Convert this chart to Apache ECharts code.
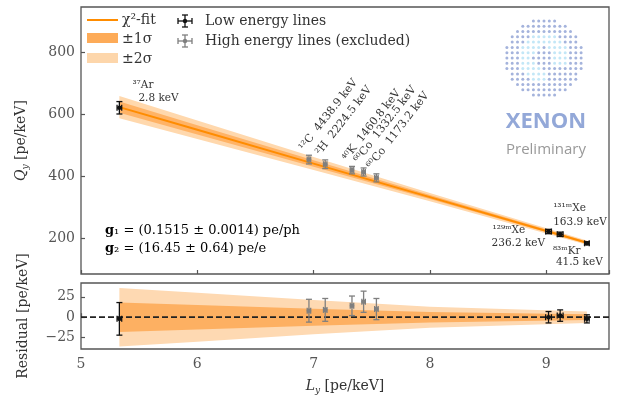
<!DOCTYPE html>
<html>
<head>
<meta charset="utf-8">
<script src="https://cdn.jsdelivr.net/npm/echarts@6/dist/echarts.min.js"></script>
<style>
html, body { margin: 0; padding: 0; background: #fff; }
#chart { width: 617px; height: 399px; }
</style>
</head>
<body>
<div id="chart"></div>
<script>
// fit line and uncertainty bands
var fitLy = [5.33, 6, 7, 8, 9.35];
var fitQy = [622, 549, 440, 332, 185];
var sigma1 = [18, 15, 10.5, 6.5, 3.5];
var sigma2 = [36, 30, 21, 13, 7];

// low energy lines (used in fit)
var lowNames = ['³⁷Ar', '¹²⁹ᵐXe', '¹³¹ᵐXe', '⁸³ᵐKr'];
var lowEnergy = ['2.8 keV', '236.2 keV', '163.9 keV', '41.5 keV'];
var lowLy = [5.33, 9.02, 9.12, 9.35];
var lowQy = [620, 221, 212, 183];
var lowLyErr = [0.02, 0.025, 0.025, 0.02];
var lowQyErr = [20, 7, 7, 5];
var lowRes = [-2, 0, 2, -2];

// high energy lines (excluded)
var highNames = ['¹²C', '²H', '⁴⁰K', '⁶⁰Co', '⁶⁰Co'];
var highEnergy = ['4438.9 keV', '2224.5 keV', '1460.8 keV', '1332.5 keV', '1173.2 keV'];
var highLy = [6.96, 7.10, 7.33, 7.43, 7.54];
var highQy = [453, 438, 419, 413, 394];
var highLyErr = [0.015, 0.015, 0.015, 0.015, 0.015];
var highQyErr = [14, 14, 12, 13, 13];
var highRes = [8, 9, 14, 19, 10];

var qTicks = [200, 400, 600, 800];
var resTicks = [-25, 0, 25];

var FONT = 'DejaVu Serif';
var chart = echarts.init(document.getElementById('chart'));

// label placement for the low energy lines: [dx1, dy1, dx2, dy2]
var lowLabelPos = [[13, -23, 19, -10], [-56, -1, -57, 12], [-7, -26, -7, -12], [-34, 8, -31, 19]];

function bandItem(k, fill, center) {
  return function (params, api) {
    if (params.dataIndex !== 0) return;
    var pts = [];
    for (var i = 0; i < fitLy.length; i++) {
      var c = center ? fitQy[i] : 0;
      pts.push(api.coord([fitLy[i], c + k[i]]));
    }
    for (var j = fitLy.length - 1; j >= 0; j--) {
      var c2 = center ? fitQy[j] : 0;
      pts.push(api.coord([fitLy[j], c2 - k[j]]));
    }
    return { type: 'polygon', shape: { points: pts }, style: { fill: fill } };
  };
}

function errorItem(color, labels) {
  return function (params, api) {
    var x = api.value(0), y = api.value(1), xe = api.value(2), ye = api.value(3);
    var c = api.coord([x, y]);
    var t = api.coord([x, y + ye]), b = api.coord([x, y - ye]);
    var l = api.coord([x - xe, y]), r = api.coord([x + xe, y]);
    var cap = 3;
    var st = { stroke: color, lineWidth: 1.3 };
    var ch = [
      { type: 'line', shape: { x1: c[0], y1: t[1], x2: c[0], y2: b[1] }, style: st },
      { type: 'line', shape: { x1: c[0] - cap, y1: t[1], x2: c[0] + cap, y2: t[1] }, style: st },
      { type: 'line', shape: { x1: c[0] - cap, y1: b[1], x2: c[0] + cap, y2: b[1] }, style: st },
      { type: 'line', shape: { x1: l[0], y1: c[1], x2: r[0], y2: c[1] }, style: st },
      { type: 'line', shape: { x1: l[0], y1: c[1] - cap, x2: l[0], y2: c[1] + cap }, style: st },
      { type: 'line', shape: { x1: r[0], y1: c[1] - cap, x2: r[0], y2: c[1] + cap }, style: st },
      { type: 'circle', shape: { cx: c[0], cy: c[1], r: 2.3 }, style: { fill: color } }
    ];
    var i = params.dataIndex;
    if (labels === 'low') {
      var p = lowLabelPos[i];
      ch.push({ type: 'text', x: c[0] + p[0], y: c[1] + p[1],
        style: { text: lowNames[i], fill: '#333', font: '10.5px ' + FONT, align: 'left', verticalAlign: 'middle' } });
      ch.push({ type: 'text', x: c[0] + p[2], y: c[1] + p[3],
        style: { text: lowEnergy[i], fill: '#333', font: '10.5px ' + FONT, align: 'left', verticalAlign: 'middle' } });
    } else if (labels === 'high') {
      ch.push({ type: 'text', x: c[0] - 3, y: c[1] - 7, rotation: 52 * Math.PI / 180,
        style: { text: highNames[i] + '  ' + highEnergy[i], fill: '#333', font: '11px ' + FONT, align: 'left', verticalAlign: 'bottom' } });
    }
    return { type: 'group', children: ch };
  };
}

function zip4(a, b, c, d) {
  return a.map(function (v, i) { return [v, b[i], c[i], d[i]]; });
}

// XENON logo dots
var logoDots = [];
for (var rr = -7; rr <= 7; rr++) {
  for (var cc = -7; cc <= 7; cc++) {
    var dx = cc * 5.3, dy = rr * 5.3, d = Math.sqrt(dx * dx + dy * dy);
    if (d > 39) continue;
    var ang = Math.atan2(dy, dx);
    var cyan = (d > 11 && d < 24 && !(ang > 0.2 && ang < 1.4)) || (Math.abs(rr) <= 1 && cc > 1 && cc < 5);
    logoDots.push({ type: 'circle', shape: { cx: 544 + dx, cy: 58 + dy, r: 1.5 },
      style: { fill: cyan ? '#c3e7f7' : '#a4b3dc' } });
  }
}

function cross(cx, cy, color) {
  var st = { stroke: color, lineWidth: 1.3 };
  return [
    { type: 'line', shape: { x1: cx, y1: cy - 6, x2: cx, y2: cy + 6 }, style: st },
    { type: 'line', shape: { x1: cx - 3, y1: cy - 6, x2: cx + 3, y2: cy - 6 }, style: st },
    { type: 'line', shape: { x1: cx - 3, y1: cy + 6, x2: cx + 3, y2: cy + 6 }, style: st },
    { type: 'line', shape: { x1: cx - 7, y1: cy, x2: cx + 7, y2: cy }, style: st },
    { type: 'line', shape: { x1: cx - 7, y1: cy - 3, x2: cx - 7, y2: cy + 3 }, style: st },
    { type: 'line', shape: { x1: cx + 7, y1: cy - 3, x2: cx + 7, y2: cy + 3 }, style: st },
    { type: 'circle', shape: { cx: cx, cy: cy, r: 2.2 }, style: { fill: color } }
  ];
}

function legendText(x, y, s) {
  return { type: 'text', x: x, y: y, style: { text: s, fill: '#333', font: '14px ' + FONT, verticalAlign: 'middle' } };
}

var gRich = {
  b: { fontWeight: 'bold', fontSize: 13, fontFamily: FONT, color: '#333' },
  n: { fontSize: 13, fontFamily: FONT, color: '#333' }
};

var axisNameRich = {
  i: { fontStyle: 'italic', fontSize: 14, fontFamily: FONT, color: '#333', verticalAlign: 'middle', lineHeight: 18 },
  s: { fontStyle: 'italic', fontSize: 9, fontFamily: FONT, color: '#333', verticalAlign: 'bottom', lineHeight: 12 },
  n: { fontSize: 14, fontFamily: FONT, color: '#333', verticalAlign: 'middle', lineHeight: 18 }
};

var tickStyle = { show: true, inside: true, length: 4, lineStyle: { color: '#555', width: 1.2 } };

var option = {
  animation: false,
  backgroundColor: '#fff',
  textStyle: { fontFamily: FONT },
  grid: [
    { left: 81, top: 7, width: 528, height: 267, show: true, borderColor: '#555', borderWidth: 1.3 },
    { left: 81, top: 283, width: 528, height: 66, show: true, borderColor: '#555', borderWidth: 1.3 }
  ],
  xAxis: [
    { type: 'value', gridIndex: 0, min: 5, max: 9.54, interval: 1,
      axisLine: { show: false }, axisTick: tickStyle, axisLabel: { show: false }, splitLine: { show: false } },
    { type: 'value', gridIndex: 1, min: 5, max: 9.54, interval: 1,
      axisLine: { show: false }, axisTick: tickStyle, splitLine: { show: false },
      axisLabel: { color: '#555', fontSize: 14, fontFamily: FONT, margin: 8, showMaxLabel: false },
      name: '{i|L}{s|y}{n| [pe/keV]}', nameLocation: 'middle', nameGap: 28,
      nameTextStyle: { rich: axisNameRich } }
  ],
  yAxis: [
    { type: 'value', gridIndex: 0, min: 84, max: 945,
      axisLine: { show: false }, splitLine: { show: false },
      axisTick: { show: true, inside: true, length: 4, lineStyle: { color: '#555', width: 1.2 }, customValues: qTicks },
      axisLabel: { color: '#555', fontSize: 14, fontFamily: FONT, margin: 6, customValues: qTicks },
      name: '{i|Q}{s|y}{n| [pe/keV]}', nameLocation: 'middle', nameGap: 51, nameRotate: 90,
      nameTextStyle: { rich: axisNameRich } },
    { type: 'value', gridIndex: 1, min: -39, max: 42,
      axisLine: { show: false }, splitLine: { show: false },
      axisTick: { show: true, inside: true, length: 4, lineStyle: { color: '#555', width: 1.2 }, customValues: resTicks },
      axisLabel: { color: '#555', fontSize: 14, fontFamily: FONT, margin: 6, customValues: resTicks,
        formatter: function (v) { return v < 0 ? '\u2212' + (-v) : '' + v; } },
      name: 'Residual [pe/keV]', nameLocation: 'middle', nameGap: 51, nameRotate: 90,
      nameTextStyle: { fontSize: 14, fontFamily: FONT, color: '#333' } }
  ],
  series: [
    { type: 'custom', xAxisIndex: 0, yAxisIndex: 0, z: 1, renderItem: bandItem(sigma2, '#ffd8ad', true),
      data: fitLy.map(function (x, i) { return [x, fitQy[i]]; }) },
    { type: 'custom', xAxisIndex: 0, yAxisIndex: 0, z: 2, renderItem: bandItem(sigma1, '#ffb366', true),
      data: fitLy.map(function (x, i) { return [x, fitQy[i]]; }) },
    { type: 'line', xAxisIndex: 0, yAxisIndex: 0, z: 3, symbol: 'none', silent: true,
      lineStyle: { color: '#ff8c00', width: 2 },
      data: fitLy.map(function (x, i) { return [x, fitQy[i]]; }) },
    { type: 'custom', xAxisIndex: 0, yAxisIndex: 0, z: 5, renderItem: errorItem('#7f7f7f', 'high'),
      data: zip4(highLy, highQy, highLyErr, highQyErr) },
    { type: 'custom', xAxisIndex: 0, yAxisIndex: 0, z: 6, renderItem: errorItem('#111', 'low'),
      data: zip4(lowLy, lowQy, lowLyErr, lowQyErr) },

    { type: 'custom', xAxisIndex: 1, yAxisIndex: 1, z: 1, renderItem: bandItem(sigma2, '#fed9b2', false),
      data: fitLy.map(function (x) { return [x, 0]; }) },
    { type: 'custom', xAxisIndex: 1, yAxisIndex: 1, z: 2, renderItem: bandItem(sigma1, '#fdb062', false),
      data: fitLy.map(function (x) { return [x, 0]; }) },
    { type: 'line', xAxisIndex: 1, yAxisIndex: 1, z: 3, symbol: 'none', silent: true,
      lineStyle: { color: '#222', width: 1.8, type: [6, 3] },
      data: [[5, 0], [9.54, 0]] },
    { type: 'custom', xAxisIndex: 1, yAxisIndex: 1, z: 5, renderItem: errorItem('#7f7f7f', null),
      data: zip4(highLy, highRes, highLyErr, highQyErr) },
    { type: 'custom', xAxisIndex: 1, yAxisIndex: 1, z: 6, renderItem: errorItem('#111', null),
      data: zip4(lowLy, lowRes, lowLyErr, lowQyErr) }
  ],
  graphic: [
    // legend
    { type: 'group', children: [
      { type: 'line', shape: { x1: 87, y1: 20, x2: 118, y2: 20 }, style: { stroke: '#ff8c00', lineWidth: 2 } },
      legendText(122, 20, 'χ²-fit'),
      { type: 'rect', shape: { x: 87, y: 33, width: 31, height: 10 }, style: { fill: '#fdab58' } },
      legendText(122, 39, '±1σ'),
      { type: 'rect', shape: { x: 87, y: 53, width: 31, height: 10 }, style: { fill: '#fdd6ab' } },
      legendText(122, 59, '±2σ'),
      legendText(205, 21, 'Low energy lines'),
      legendText(205, 41, 'High energy lines (excluded)')
    ].concat(cross(185, 21, '#111')).concat(cross(185, 41, '#7f7f7f')) },
    // fit result text
    { type: 'text', x: 105, y: 231, style: { text: '{b|g}{n|₁ = (0.1515 ± 0.0014) pe/ph}', rich: gRich, verticalAlign: 'middle' } },
    { type: 'text', x: 105, y: 249, style: { text: '{b|g}{n|₂ = (16.45 ± 0.64) pe/e}', rich: gRich, verticalAlign: 'middle' } },
    // logo
    { type: 'group', children: logoDots },
    { type: 'text', x: 546, y: 122, style: { text: 'XENON', fill: '#93a8d8', font: 'bold 22px "Open Sans"', align: 'center', verticalAlign: 'middle' } },
    { type: 'text', x: 546, y: 150, style: { text: 'Preliminary', fill: '#999', font: '15px "Open Sans"', align: 'center', verticalAlign: 'middle' } }
  ]
};

chart.setOption(option);
</script>
</body>
</html>
